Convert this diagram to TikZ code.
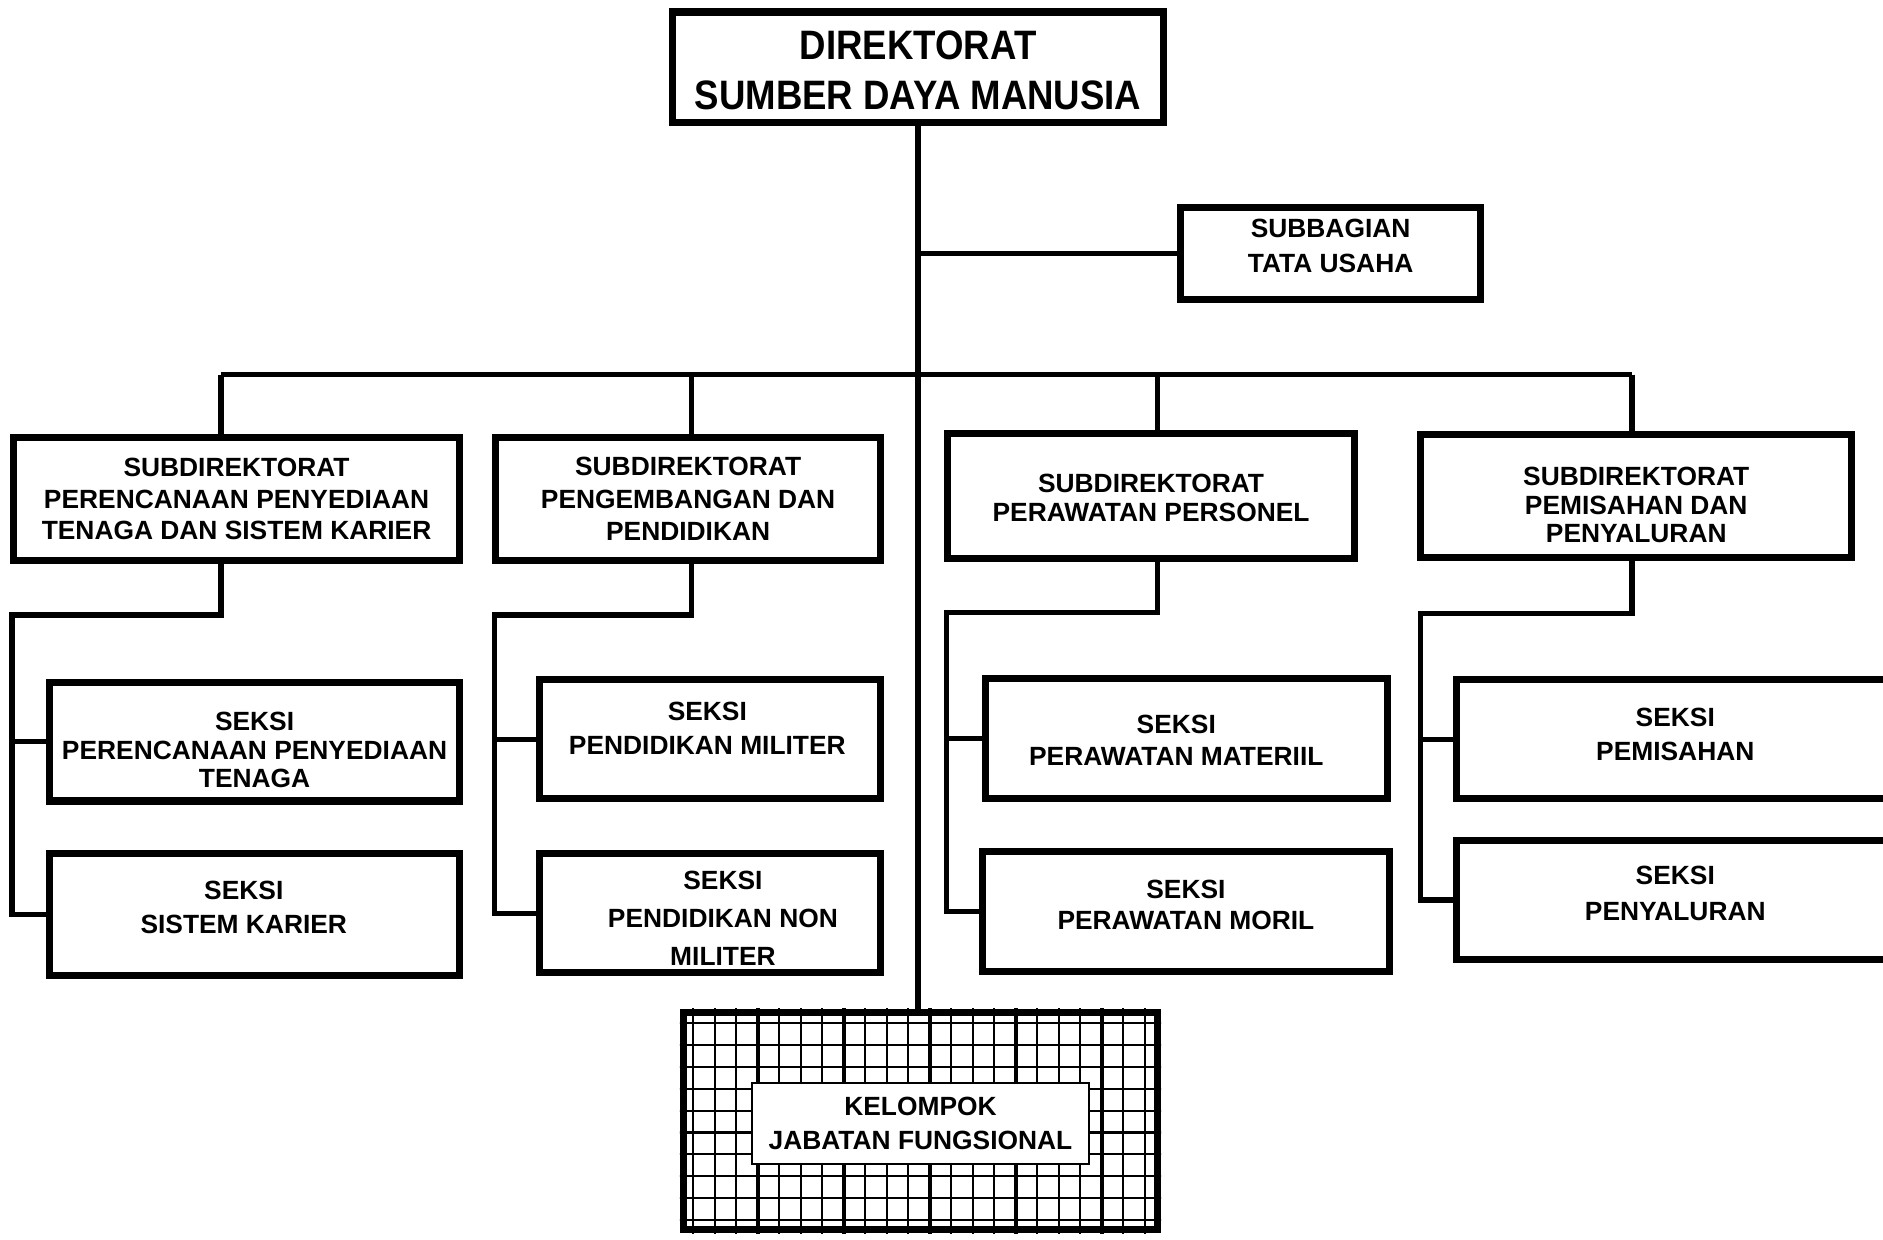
\documentclass[tikz,border=0pt]{standalone}
\usepackage{fontspec}
\setmainfont{Liberation Sans}
\newfontfamily\titlefont[FakeStretch=0.89]{Liberation Sans}
\newlength\unitpx
\setlength\unitpx{0.12009mm}
\newcommand\lbl[1]{\bfseries\fontsize{7.5}{#1}\selectfont}

\begin{document}
\begin{tikzpicture}[x=0.12009mm, y=-0.12009mm,
  box/.style={draw, line width=2pt, fill=white, inner sep=0pt},
  sz/.style 2 args={minimum width=#1*\unitpx, minimum height=#2*\unitpx},
  tx/.style n args={4}{label={[font={\lbl{#3}}, xshift=#1*\unitpx, yshift=#2*\unitpx]center:#4}},
  every label/.style={align=center, inner sep=0pt},
  conn/.style={line width=1.5pt}]
\useasboundingbox (0,0) rectangle (1568,1032);

% direktorat and subbagian
\node[box, sz={409}{92}, label={[font={\titlefont\bfseries\fontsize{11.7}{14.3}\selectfont},
  yshift=-2.5*\unitpx]center:DIREKTORAT\\SUMBER DAYA MANUSIA}] (dir) at (764.5,56) {};
\node[box, sz={250}{76}, tx={0}{6.5}{9.9}{SUBBAGIAN\\TATA USAHA}] (sbtu) at (1108,211) {};

% subdirektorat
\node[box, sz={372}{103}, tx={0}{0}{9}{SUBDIREKTORAT\\PERENCANAAN PENYEDIAAN\\TENAGA DAN SISTEM KARIER}]
  (sd1) at (197,415.5) {};
\node[box, sz={320}{103}, tx={0}{0}{9.2}{SUBDIREKTORAT\\PENGEMBANGAN DAN\\PENDIDIKAN}]
  (sd2) at (573,415.5) {};
\node[box, sz={339}{104}, tx={0}{-1.5}{8.2}{SUBDIREKTORAT\\PERAWATAN PERSONEL}]
  (sd3) at (958.5,413) {};
\node[box, sz={359}{102}, tx={0}{-7.5}{8.2}{SUBDIREKTORAT\\PEMISAHAN DAN\\PENYALURAN}]
  (sd4) at (1362.5,413) {};

% seksi
\node[box, sz={342}{99}, tx={0}{-7}{8}{SEKSI\\PERENCANAAN PENYEDIAAN\\TENAGA}] (sa1) at (212,617.5) {};
\node[box, sz={342}{101}, tx={-9}{6}{9.6}{SEKSI\\SISTEM KARIER}] (sb1) at (212,761.5) {};
\node[box, sz={284}{99}, tx={-2}{9}{9.6}{SEKSI\\PENDIDIKAN MILITER}] (sa2) at (591,615.5) {};
\node[box, sz={284}{99}, tx={11}{-4}{10.8}{SEKSI\\PENDIDIKAN NON\\MILITER}] (sb2) at (591,760.5) {};
\node[box, sz={334}{100}, tx={-8.5}{-1.5}{9}{SEKSI\\PERAWATAN MATERIIL}] (sa3) at (988,615) {};
\node[box, sz={339}{100}, tx={0}{5.5}{9}{SEKSI\\PERAWATAN MORIL}] (sb3) at (987.5,759) {};
\node[box, sz={364}{99}, tx={0}{4}{9.6}{SEKSI\\PEMISAHAN}] (sa4) at (1395,615.5) {};
\node[box, sz={364}{99}, tx={0}{5.5}{10.3}{SEKSI\\PENYALURAN}] (sb4) at (1395,749.5) {};

% kelompok jabatan fungsional
\node[box, sz={395}{181}] (kjf) at (766.5,933.5) {};
\begin{scope}
\clip (kjf.south west) rectangle (kjf.north east);
\foreach \i in {0,...,21}
  \draw[line width=0.6pt] (577.4+17.9*\i,835) -- (577.4+17.9*\i,1035);
\foreach \i in {3,7,...,19}
  \draw[line width=0.95pt] (577.4+17.9*\i,835) -- (577.4+17.9*\i,1035);
\foreach \j in {0,...,9}
  \draw[line width=0.6pt] (560,852+18.2*\j) -- (975,852+18.2*\j);
\end{scope}
\node[draw, line width=0.5pt, fill=white, sz={281}{68}, align=center, inner sep=0pt,
  font={\lbl{9.6}}, yshift=-2.5*\unitpx] (kjfl) at (766.5,933) {KELOMPOK\\JABATAN FUNGSIONAL};

% garis komando
\coordinate (t1) at (184,312);
\coordinate (t2) at (576,312);
\coordinate (t3) at (964,312);
\coordinate (t4) at (1359,312);
\coordinate (p1) at (10,512);
\coordinate (p2) at (412,512);
\coordinate (p3) at (788,510);
\coordinate (p4) at (1183,511);

\draw[conn] (dir.south) -- (dir.south |- kjf.north);
\draw[conn] (dir.south |- sbtu.west) -- (sbtu.west);
\draw[conn] (t1) -- (t4);
\foreach \i in {1,...,4}
  \draw[conn] (t\i) -- (t\i |- sd\i.north)
    (t\i |- sd\i.south) |- (p\i) |- (sb\i.west)
    (p\i |- sa\i.west) -- (sa\i.west);
\end{tikzpicture}
\end{document}
